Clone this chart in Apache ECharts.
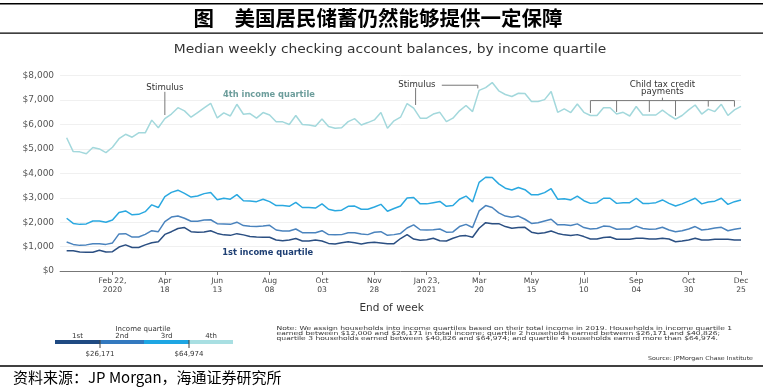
<!DOCTYPE html>
<html><head><meta charset="utf-8">
<script src="https://cdn.jsdelivr.net/npm/echarts@6/dist/echarts.min.js"></script>
<style>html,body{margin:0;padding:0;background:#fff;}#c{width:763px;height:389px;}</style>
</head><body><div id="c"></div>
<script>
// Week-ending dates: first week ends 2020-01-04, 104 weeks through 2021-12-25
var startDate = new Date(Date.UTC(2020, 0, 4));
var weeks = [''];
for (var k = 0; k < 104; k++) {
  var d = new Date(startDate.getTime() + k * 7 * 86400000);
  weeks.push(d.toISOString().slice(0, 10));
}
var tickLabels = ['Feb 22,\n2020','Apr\n18','Jun\n13','Aug\n08','Oct\n03','Nov\n28','Jan 23,\n2021','Mar\n20','May\n15','Jul\n10','Sep\n04','Oct\n30','Dec\n25'];
var yTickLabels = ['$0','$1,000','$2,000','$3,000','$4,000','$5,000','$6,000','$7,000','$8,000'];

var q4 = [5460,4890,4880,4800,5060,5000,4850,5070,5420,5600,5480,5660,5660,6180,5870,6240,6430,6690,6560,6300,6490,6680,6870,6270,6480,6350,6830,6420,6450,6260,
  6490,6390,6110,6110,6000,6370,6000,5980,5930,6230,5920,5850,5870,6120,6240,5980,6080,6190,6490,5850,6150,6300,6860,6670,6260,6260,6430,6500,6120,6260,6560,6780,6530,7400,7510,7720,7380,7230,
  7150,7280,7270,6940,6940,7020,7350,6500,6640,6490,6840,6500,6370,6370,6690,6690,6430,6500,6350,6740,6390,6390,6390,6590,6390,6220,6370,6600,6800,6430,6630,6530,6830,6370,6600,6740];
var q3 = [2160,1950,1910,1930,2050,2050,2000,2090,2400,2460,2300,2320,2430,2710,2600,3050,3220,3310,3180,3030,3070,3170,3220,2920,2980,2940,3130,2880,2870,2840,
  2940,2840,2680,2680,2650,2810,2600,2600,2580,2750,2530,2470,2490,2650,2660,2530,2530,2620,2730,2450,2560,2660,2990,3010,2750,2750,2800,2850,2650,2680,2940,3070,2830,3630,3840,3830,3570,3390,
  3320,3420,3330,3120,3120,3210,3370,2940,2960,2910,3070,2880,2770,2800,2980,2980,2770,2800,2800,2980,2770,2770,2800,2910,2770,2660,2750,2860,2980,2750,2830,2860,2980,2730,2840,2910];
var q2 = [1190,1090,1050,1070,1120,1120,1090,1150,1520,1530,1390,1390,1500,1650,1610,2020,2210,2250,2160,2040,2040,2090,2100,1940,1930,1910,2000,1860,1830,1820,
  1840,1870,1680,1640,1640,1720,1570,1570,1570,1650,1490,1480,1490,1570,1570,1520,1490,1590,1610,1460,1490,1540,1760,1890,1690,1680,1690,1720,1590,1600,1820,1910,1780,2460,2680,2600,2380,2250,
  2200,2250,2120,1950,1980,2050,2120,1890,1890,1860,1930,1780,1720,1740,1840,1820,1710,1720,1720,1840,1740,1710,1720,1790,1680,1610,1650,1720,1820,1680,1710,1760,1790,1650,1710,1750];
var q1 = [830,830,780,770,770,850,780,790,980,1070,960,960,1070,1160,1200,1500,1610,1740,1780,1610,1590,1600,1650,1540,1480,1460,1530,1480,1410,1390,
  1380,1380,1270,1240,1270,1330,1230,1230,1270,1230,1130,1110,1160,1200,1160,1110,1160,1180,1150,1120,1120,1330,1490,1310,1260,1280,1340,1240,1230,1340,1430,1450,1380,1750,1980,1940,1940,1820,
  1750,1780,1790,1590,1540,1570,1640,1540,1480,1450,1490,1410,1310,1310,1370,1390,1300,1300,1300,1340,1340,1310,1310,1340,1310,1200,1230,1270,1340,1270,1270,1300,1300,1300,1270,1270];

var seriesNames = ['1st','2nd','3rd','4th'];
var seriesColors = ['#2b4f82','#4a83bd','#2aa8e0','#a3d8dc'];
var legendColors = ['#1f4a82','#3379bf','#1ea6e3','#a8dfe2'];
var legendCuts = ['$26,171','$64,974'];

// Annotation anchors in data space: [week index, value]
var ctcWeeks = [80,84,89,93,98,102];
var ctcDrop = [6475,6516,6516,6352,6734,6734];

var chart = echarts.init(document.getElementById('c'), null, {renderer:'canvas'});
function pad(a){ return [null].concat(a); }
var FONT = '"DejaVu Sans", sans-serif';

chart.setOption({
  animation:false,
  grid:{left:60.1, right:22, top:75.7, bottom:118, containLabel:false},
  xAxis:{
    type:'category', data:weeks, boundaryGap:false,
    axisLine:{lineStyle:{color:'#777', width:1}},
    axisTick:{show:true, length:4, lineStyle:{color:'#777'}, interval:function(i){return i>0 && i%8===0;}},
    axisLabel:{interval:function(i){return i>0 && i%8===0;}, color:'#444', fontSize:7.6, lineHeight:9, fontFamily:FONT, margin:6,
      formatter:function(v,i){ return tickLabels[i/8-1] || ''; }},
    splitLine:{show:false},
    name:'End of week', nameLocation:'middle', nameGap:32,
    nameTextStyle:{color:'#333', fontSize:10.5, fontFamily:FONT, padding:[0,18,0,0]}
  },
  yAxis:{
    type:'value', min:0, max:8000, interval:1000,
    axisLine:{show:false}, axisTick:{show:false},
    axisLabel:{color:'#555', fontSize:9, fontFamily:FONT, margin:6,
      formatter:function(v){ return yTickLabels[Math.round(v/1000)]; }},
    splitLine:{lineStyle:{color:'#f0f0f0', width:1}}
  },
  series:[q1,q2,q3,q4].map(function(d,i){
    return {type:'line', name:seriesNames[i], data:pad(d), symbol:'none', smooth:false,
      lineStyle:{color:seriesColors[i], width:1.5}, z:2+i};
  })
});

var W = 763;
var x0 = chart.convertToPixel({xAxisIndex:0}, 0);
var x1 = chart.convertToPixel({xAxisIndex:0}, 104);
function px(week){ return x0 + (x1-x0)*(week+1)/104; }
function py(v){ return chart.convertToPixel({yAxisIndex:0}, v); }
var gline = {stroke:'#777', lineWidth:1};
var g = [];
function vline(w, v1, v2){ g.push({type:'line', shape:{x1:px(w), y1:py(v1), x2:px(w), y2:py(v2)}, style:gline, silent:true}); }
function hline(w1, w2, v){ g.push({type:'line', shape:{x1:px(w1), y1:py(v), x2:px(w2), y2:py(v)}, style:gline, silent:true}); }
function txt(w, v, s, opts){ g.push({type:'text', x:px(w), y:py(v), style:Object.assign({text:s, fill:'#333', font:'8.6px '+FONT, align:'center', verticalAlign:'middle'}, opts||{}), silent:true}); }

// Stimulus 1
txt(15, 7520, 'Stimulus');
vline(15, 7340, 6390);
// Stimulus 2
txt(53.5, 7610, 'Stimulus');
vline(53.3, 7500, 6800);
hline(57.3, 62.8, 7610);
vline(62.8, 7610, 7480);
// Child tax credit
txt(91, 7620, 'Child tax credit');
txt(91, 7330, 'payments');
hline(80, 102, 6980);
vline(91, 6980, 7100);
ctcWeeks.forEach(function(w,i){ vline(w, 6980, ctcDrop[i]); });
// Series labels
txt(30.9, 7213, '4th income quartile', {fill:'#6c9d9b', font:'bold 8.3px '+FONT});
txt(30.7, 750, '1st income quartile', {fill:'#1e3f73', font:'bold 8.3px '+FONT});

// Header / footer
g.push({type:'rect', shape:{x:0, y:3, width:W, height:1.6}, style:{fill:'#000'}, silent:true});
g.push({type:'rect', shape:{x:0, y:32.5, width:W, height:1.2}, style:{fill:'#000'}, silent:true});
g.push({type:'text', x:378, y:18.5, style:{text:'图　美国居民储蓄仍然能够提供一定保障', font:'bold 20.5px "Noto Sans CJK SC"', fill:'#000', align:'center', verticalAlign:'middle'}, silent:true});
g.push({type:'text', x:390, y:49.5, scaleX:1.15, style:{text:'Median weekly checking account balances, by income quartile', font:'12px '+FONT, fill:'#333', align:'center', verticalAlign:'middle'}, silent:true});

// Income quartile legend bar
var segX = [55,100,144,189,233];
g.push({type:'text', x:143, y:329, style:{text:'Income quartile', font:'7px '+FONT, fill:'#333', align:'center', verticalAlign:'middle'}, silent:true});
for (var s = 0; s < 4; s++) {
  g.push({type:'rect', shape:{x:segX[s], y:340, width:segX[s+1]-segX[s], height:4}, style:{fill:legendColors[s]}, silent:true});
  g.push({type:'text', x:(segX[s]+segX[s+1])/2, y:336.5, style:{text:seriesNames[s], font:'7px '+FONT, fill:'#333', align:'center', verticalAlign:'middle'}, silent:true});
}
[segX[1], segX[3]].forEach(function(x, i){
  g.push({type:'line', shape:{x1:x, y1:340, x2:x, y2:348}, style:{stroke:'#444', lineWidth:1}, silent:true});
  g.push({type:'text', x:x, y:354.5, style:{text:legendCuts[i], font:'7px '+FONT, fill:'#333', align:'center', verticalAlign:'middle'}, silent:true});
});

// Note
var noteLines = [
  'Note: We assign households into income quartiles based on their total income in 2019. Households in income quartile 1',
  'earned between $12,000 and $26,171 in total income; quartile 2 households earned between $26,171 and $40,826;',
  'quartile 3 households earned between $40,826 and $64,974; and quartile 4 households earned more than $64,974.'
];
noteLines.forEach(function(t, i){
  g.push({type:'text', x:276.5, y:328.3 + i*5.2, scaleX:1.38, style:{text:t, font:'5.5px '+FONT, fill:'#333', align:'left', verticalAlign:'middle'}, silent:true});
});
g.push({type:'text', x:753, y:359, scaleX:1.15, style:{text:'Source: JPMorgan Chase Institute', font:'5.5px '+FONT, fill:'#333', align:'right', verticalAlign:'middle'}, silent:true});

g.push({type:'rect', shape:{x:0, y:365.2, width:W, height:1.6}, style:{fill:'#000'}, silent:true});
g.push({type:'text', x:13, y:377.5, style:{text:'资料来源：JP Morgan，海通证券研究所', font:'15px "Noto Sans CJK SC"', fill:'#000', align:'left', verticalAlign:'middle'}, silent:true});

chart.setOption({graphic:g});
</script>
</body></html>
